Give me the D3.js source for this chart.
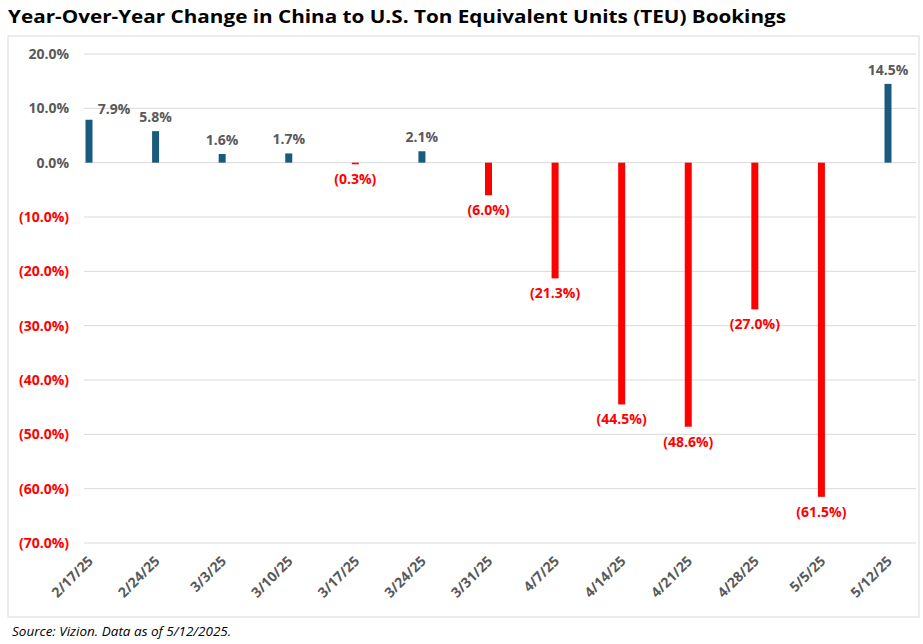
<!DOCTYPE html>
<html><head><meta charset="utf-8">
<script src="https://cdn.jsdelivr.net/npm/d3@7"></script>
<style>body{margin:0;background:#fff;font-family:"Open Sans",sans-serif;}</style>
</head><body><svg id="c" width="923" height="644"></svg>
<script>
var categories = ["2/17/25","2/24/25","3/3/25","3/10/25","3/17/25","3/24/25","3/31/25","4/7/25","4/14/25","4/21/25","4/28/25","5/5/25","5/12/25"];
var values = [7.9, 5.8, 1.6, 1.7, -0.3, 2.1, -6.0, -21.3, -44.5, -48.6, -27.0, -61.5, 14.5];
var yTicks = [20, 10, 0, -10, -20, -30, -40, -50, -60, -70];

var svg = d3.select("#c");
var blue = "#1a5a7e", red = "#ff0000", gray = "#595959";
var fmt = function(v){ var s = Math.abs(v).toFixed(1) + "%"; return v < 0 ? "(" + s + ")" : s; };

svg.append("text").attr("x", 8).attr("y", 23).attr("font-size", 18).attr("font-weight", "bold")
  .attr("textLength", 778).attr("lengthAdjust", "spacingAndGlyphs")
  .attr("fill", "#000").text("Year-Over-Year Change in China to U.S. Ton Equivalent Units (TEU) Bookings");
svg.append("rect").attr("x", 8).attr("y", 36).attr("width", 911).attr("height", 581)
  .attr("fill", "none").attr("stroke", "#d9d9d9");

var x = d3.scalePoint().domain(categories).range([89, 888]);
var bw = 7;
var y = d3.scaleLinear().domain([-70, 20]).range([543, 54]);

svg.selectAll(".grid").data(yTicks).enter().append("line")
  .attr("x1", 84).attr("x2", 916).attr("y1", d => y(d)).attr("y2", d => y(d))
  .attr("stroke", "#d9d9d9");

svg.selectAll(".yl").data(yTicks).enter().append("text")
  .attr("x", 69).attr("y", d => y(d) + 5).attr("text-anchor", "end")
  .attr("font-size", 14).attr("font-weight", "bold").attr("fill", d => d < 0 ? red : gray)
  .text(d => fmt(d));

svg.selectAll(".bar").data(values).enter().append("rect")
  .attr("x", (d, i) => x(categories[i]) - bw / 2).attr("width", bw)
  .attr("y", d => y(Math.max(0, d))).attr("height", d => Math.abs(y(d) - y(0)))
  .attr("fill", d => d < 0 ? red : blue);

svg.selectAll(".vl").data(values).enter().append("text")
  .attr("x", (d, i) => x(categories[i]) + (i === 0 ? 25 : 0))
  .attr("y", (d, i) => i === 0 ? y(d) - 6 : (d >= 0 ? y(d) - 9 : y(d) + 20))
  .attr("text-anchor", "middle").attr("font-size", 14).attr("font-weight", "bold")
  .attr("fill", d => d < 0 ? red : gray).text(d => fmt(d));

svg.selectAll(".xl").data(categories).enter().append("text")
  .attr("transform", d => "translate(" + (x(d) + 5) + ",562) rotate(-45)")
  .attr("text-anchor", "end").attr("font-size", 14).attr("font-weight", "bold")
  .attr("fill", gray).text(d => d);

svg.append("text").attr("x", 12).attr("y", 636).attr("font-size", 13.5).attr("font-style", "italic")
  .attr("fill", "#000").text("Source: Vizion. Data as of 5/12/2025.");
</script></body></html>
